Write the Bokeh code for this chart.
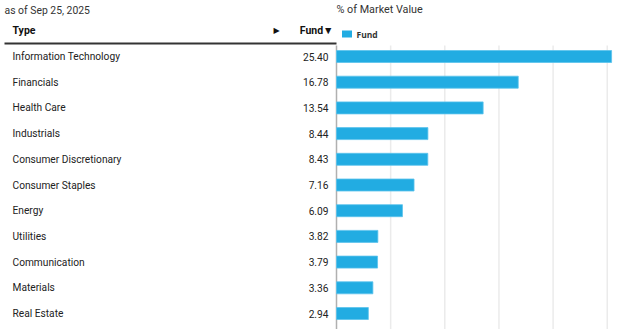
from bokeh.plotting import figure
from bokeh.models import Range1d
from bokeh.core.properties import value
from bokeh.embed import file_html
from bokeh.resources import INLINE

# ---- data ----
sectors = ["Information Technology", "Financials", "Health Care", "Industrials",
           "Consumer Discretionary", "Consumer Staples", "Energy", "Utilities",
           "Communication", "Materials", "Real Estate"]
fund = [25.40, 16.78, 13.54, 8.44, 8.43, 7.16, 6.09, 3.82, 3.79, 3.36, 2.94]
grid_ticks = [5, 10, 15, 20, 25]
as_of = "as of Sep 25, 2025"
chart_title = "% of Market Value"
series_name = "Fund"

# ---- layout (pixel -> data helpers) ----
W, H = 640, 329
X0PX = 336.0          # pixel where value 0 sits
XSCALE = 10.83        # pixels per unit
Y0PX = 56.0           # pixel center of first row
YSCALE = 25.7         # pixels per row


def px2x(px):
    return (px - X0PX) / XSCALE


def px2y(py):
    return (py - Y0PX) / YSCALE


p = figure(width=W, height=H, output_backend="svg", toolbar_location=None,
           x_range=Range1d(px2x(0), px2x(W)), y_range=Range1d(px2y(H), px2y(0)),
           min_border=0, outline_line_color=None)
p.xaxis.visible = False
p.yaxis.visible = False
p.grid.visible = False
p.background_fill_color = "white"
p.border_fill_color = "white"

idx = list(range(len(sectors)))
font = value("Roboto")

# gridlines
p.segment(x0=grid_ticks, x1=grid_ticks, y0=[px2y(45)] * len(grid_ticks),
          y1=[px2y(H)] * len(grid_ticks), line_color="#ebebeb", line_width=1.5)
# axis line
p.segment(x0=[0], x1=[0], y0=[px2y(45)], y1=[px2y(H)], line_color="#b0b0b0", line_width=1.5)

# bars
p.hbar(y=idx, left=0, right=fund, height=12 / YSCALE, fill_color="#22ace2",
       line_color="#5cc3ec", line_width=0.8)

# table text
p.text(x=[px2x(12)] * len(sectors), y=idx, text=sectors, text_font=font,
       text_font_size="10.2px", text_color="#222222", text_baseline="middle")
p.text(x=[px2x(328)] * len(fund), y=idx, text=[f"{v:.2f}" for v in fund], text_font=font,
       text_font_size="10.2px", text_color="#222222", text_baseline="middle", text_align="right")

# header
p.text(x=[px2x(4)], y=[px2y(10)], text=[as_of], text_font=font, text_font_size="10.4px",
       text_color="#333333", text_baseline="middle")
p.text(x=[px2x(12)], y=[px2y(30)], text=["Type"], text_font=font, text_font_size="10.5px",
       text_font_style="bold", text_color="#111111", text_baseline="middle")
p.text(x=[px2x(273)], y=[px2y(30)], text=["\u25B6"], text_font=value("DejaVu Sans"),
       text_font_size="8px", text_color="#111111", text_baseline="middle")
p.text(x=[px2x(333)], y=[px2y(30)], text=[series_name + "\u25BC"], text_font=font,
       text_font_size="10.5px", text_font_style="bold", text_color="#111111",
       text_baseline="middle", text_align="right")
p.segment(x0=[px2x(4)], x1=[px2x(336)], y0=[px2y(43)], y1=[px2y(43)],
          line_color="#333333", line_width=2)

p.text(x=[px2x(336)], y=[px2y(9)], text=[chart_title], text_font=font,
       text_font_size="10.8px", text_color="#333333", text_baseline="middle")
p.rect(x=[px2x(346.5)], y=[px2y(33.5)], width=10 / XSCALE, height=7 / YSCALE,
       fill_color="#22ace2", line_color=None)
p.text(x=[px2x(356)], y=[px2y(34)], text=[series_name], text_font=value("Open Sans"),
       text_font_size="8.5px", text_font_style="bold", text_color="#333333", text_baseline="middle")

open("out.html", "w").write(file_html(p, INLINE))
